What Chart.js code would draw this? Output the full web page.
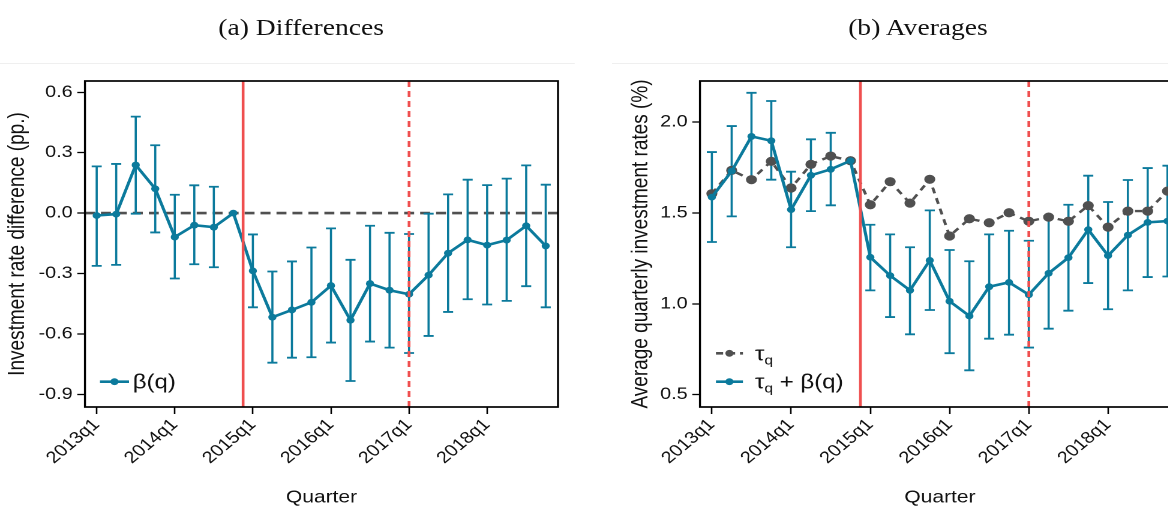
<!DOCTYPE html>
<html>
<head>
<meta charset="utf-8">
<title>Investment rates by quarter</title>
<script src="https://cdn.jsdelivr.net/npm/chart.js@4.4.1/dist/chart.umd.min.js"></script>
<style>
  html, body { margin: 0; padding: 0; background: #fff; overflow: hidden; }
  body { width: 1168px; height: 506px; position: relative; }
  /* the figure is drawn 1.2x wide, like the exported original */
  #stage { position: absolute; left: 0; top: 0; width: 1000px; height: 506px; transform: scaleX(1.2); transform-origin: 0 0; }
  .rule { position: absolute; top: 63px; height: 0; border-top: 1px solid #efefef; }
  .head { position: absolute; top: 16px; font: 23px/1 "Liberation Serif", serif; color: #111; text-align: center; white-space: nowrap; }
  .panel { position: absolute; top: 64px; height: 442px; }
</style>
</head>
<body>
<div id="stage">
  <div class="rule" style="left:0; width:479px"></div>
  <div class="rule" style="left:510px; width:490px"></div>
  <div class="head" style="left:151px; width:200px">(a) Differences</div>
  <div class="head" style="left:665px; width:200px">(b) Averages</div>
  <div class="panel" style="left:0; width:483px"><canvas id="diffChart" width="483" height="442"></canvas></div>
  <div class="panel" style="left:500px; width:500px"><canvas id="avgChart" width="500" height="442"></canvas></div>
</div>
<script>
// quarters 2013q1 .. 2018q4 are x = 0 .. 23
var tickPos = [0, 4, 8, 12, 16, 20];
var tickLabels = ['2013q1', '2014q1', '2015q1', '2016q1', '2017q1', '2018q1'];

// (a) beta(q) with 95% bands; 2014q4 is the base quarter
var beta   = [-0.012, -0.005, 0.239, 0.121, -0.119, -0.060, -0.070, 0.000, -0.287, -0.517, -0.481, -0.443,
              -0.360, -0.532, -0.350, -0.383, -0.403, -0.308, -0.199, -0.133, -0.159, -0.134, -0.063, -0.163];
var betaLo = [-0.262, -0.257, -0.003, -0.096, -0.325, -0.254, -0.269, null, -0.468, -0.743, -0.718, -0.716,
              -0.643, -0.834, -0.638, -0.668, -0.695, -0.610, -0.491, -0.428, -0.454, -0.436, -0.363, -0.468];
var betaHi = [0.232, 0.244, 0.479, 0.337, 0.091, 0.138, 0.131, null, -0.106, -0.290, -0.240, -0.171,
              -0.076, -0.232, -0.063, -0.098, -0.104, -0.003, 0.093, 0.166, 0.139, 0.171, 0.237, 0.141];

// (b) tau_q and tau_q + beta(q)
var tau       = [1.606, 1.734, 1.683, 1.784, 1.637, 1.767, 1.813, 1.787, 1.545, 1.672, 1.554, 1.685,
                 1.373, 1.468, 1.446, 1.501, 1.454, 1.477, 1.454, 1.540, 1.422, 1.510, 1.510, 1.620];
var tauBeta   = [1.587, 1.730, 1.921, 1.897, 1.518, 1.707, 1.740, 1.787, 1.256, 1.155, 1.074, 1.239,
                 1.014, 0.933, 1.094, 1.118, 1.050, 1.168, 1.254, 1.408, 1.265, 1.378, 1.448, 1.455];
var tauBetaLo = [1.340, 1.481, 1.686, 1.683, 1.311, 1.510, 1.542, null, 1.074, 0.927, 0.832, 0.966,
                 0.728, 0.634, 0.808, 0.830, 0.759, 0.863, 0.962, 1.114, 0.970, 1.074, 1.147, 1.150];
var tauBetaHi = [1.835, 1.978, 2.161, 2.116, 1.727, 1.905, 1.941, null, 1.435, 1.382, 1.311, 1.514,
                 1.296, 1.234, 1.382, 1.402, 1.347, 1.483, 1.545, 1.705, 1.560, 1.681, 1.747, 1.760];

var diffTicks = [-0.9, -0.6, -0.3, 0.0, 0.3, 0.6];
var avgTicks = [0.5, 1.0, 1.5, 2.0];
var breakSolid = 7.5;   // between 2014q4 and 2015q1
var breakDashed = 16;   // 2017q1

var BLUE = '#0b7a9c', GRAY = '#505050', RED = '#ef4f4f', INK = '#111';
var SANS = '"Liberation Sans", Arial, sans-serif';

function pts(arr) {
  return arr.map(function (v, i) { return { x: i, y: v }; });
}

// zero line, error bars, break lines, frame and legend
var extras = {
  id: 'extras',
  beforeDatasetsDraw: function (chart, args, o) {
    var ctx = chart.ctx, a = chart.chartArea, x = chart.scales.x, y = chart.scales.y;
    ctx.save();
    ctx.beginPath(); ctx.rect(a.left, a.top, a.width, a.height); ctx.clip();
    if (o.zero) {
      var yz = y.getPixelForValue(0);
      ctx.strokeStyle = GRAY; ctx.lineWidth = 2.6; ctx.setLineDash([8.3, 5]);
      ctx.beginPath(); ctx.moveTo(a.left, yz); ctx.lineTo(a.right, yz); ctx.stroke();
      ctx.setLineDash([]);
    }
    chart.data.datasets.forEach(function (ds) {
      if (!ds.lo) return;
      ctx.strokeStyle = ds.borderColor; ctx.lineWidth = 1.8;
      ds.lo.forEach(function (lo, i) {
        if (lo == null) return;
        var px = x.getPixelForValue(i), p0 = y.getPixelForValue(lo), p1 = y.getPixelForValue(ds.hi[i]);
        ctx.beginPath();
        ctx.moveTo(px, p0); ctx.lineTo(px, p1);
        ctx.moveTo(px - 4.2, p0); ctx.lineTo(px + 4.2, p0);
        ctx.moveTo(px - 4.2, p1); ctx.lineTo(px + 4.2, p1);
        ctx.stroke();
      });
    });
    ctx.restore();
  },
  afterDatasetsDraw: function (chart) {
    var ctx = chart.ctx, a = chart.chartArea, x = chart.scales.x;
    ctx.save();
    ctx.strokeStyle = RED; ctx.lineWidth = 2.3;
    var xs = x.getPixelForValue(breakSolid);
    ctx.beginPath(); ctx.moveTo(xs, a.top); ctx.lineTo(xs, a.bottom); ctx.stroke();
    var xd = x.getPixelForValue(breakDashed);
    ctx.setLineDash([6, 4]);
    ctx.beginPath(); ctx.moveTo(xd, a.top); ctx.lineTo(xd, a.bottom); ctx.stroke();
    ctx.restore();
  },
  afterDraw: function (chart, args, o) {
    var ctx = chart.ctx, a = chart.chartArea;
    ctx.save();
    ctx.strokeStyle = '#000'; ctx.lineWidth = 1.7;
    ctx.strokeRect(a.left, a.top, a.width, a.height);
    // legend, bottom left inside the frame
    o.legend.forEach(function (it, k) {
      var ly = a.bottom - 25.3 - (o.legend.length - 1 - k) * 28.4;
      var x0 = a.left + o.symX, x1 = x0 + o.symW;
      ctx.strokeStyle = it.color; ctx.fillStyle = it.color; ctx.lineWidth = 2.6;
      ctx.setLineDash(it.dash || []);
      ctx.beginPath(); ctx.moveTo(x0, ly); ctx.lineTo(x1, ly); ctx.stroke();
      ctx.setLineDash([]);
      ctx.beginPath(); ctx.arc((x0 + x1) / 2, ly, 3.4, 0, Math.PI * 2); ctx.fill();
      var tx = a.left + o.textX;
      ctx.fillStyle = INK; ctx.textBaseline = 'alphabetic';
      it.parts.forEach(function (p) {
        ctx.font = (p.sub ? 13 : 20) + 'px ' + SANS;
        ctx.fillText(p.t, tx, ly + (p.sub ? 11 : 7));
        tx += ctx.measureText(p.t).width;
      });
    });
    ctx.restore();
  }
};

function makeChart(id, cfg) {
  return new Chart(document.getElementById(id), {
    type: 'line',
    data: { datasets: cfg.datasets },
    options: {
      responsive: false,
      animation: false,
      devicePixelRatio: 2,
      layout: { padding: { top: 17, right: cfg.padRight, left: 0, bottom: 0 } },
      elements: {
        line: { borderWidth: 2.6, tension: 0 },
        point: { radius: 3.4, borderWidth: 0 }
      },
      scales: {
        x: {
          type: 'linear', min: -0.6, max: 23.63,
          afterBuildTicks: function (s) { s.ticks = tickPos.map(function (v) { return { value: v }; }); },
          afterFit: function (s) { s.height = 99; },
          ticks: {
            autoSkip: false, minRotation: 45, maxRotation: 45, padding: 1,
            color: INK, font: { family: SANS, size: 16.5 },
            callback: function (v) { return tickLabels[tickPos.indexOf(v)]; }
          },
          grid: { drawOnChartArea: false, drawTicks: true, tickLength: 7, tickColor: '#000', tickWidth: 1.3 },
          border: { display: false },
          title: { display: true, text: 'Quarter', color: INK, font: { family: SANS, size: 17.5 }, padding: { top: 0, bottom: -2 } }
        },
        y: {
          min: cfg.yMin, max: cfg.yMax,
          afterBuildTicks: function (s) { s.ticks = cfg.yTicks.map(function (v) { return { value: v }; }); },
          afterFit: function (s) { s.width = cfg.yWidth; },
          ticks: {
            padding: 3.8, color: INK, font: { family: SANS, size: 16.5 },
            callback: function (v) { return v.toFixed(1); }
          },
          grid: { drawOnChartArea: false, drawTicks: true, tickLength: 6.4, tickColor: '#000', tickWidth: 1.3 },
          border: { display: false },
          title: { display: true, text: cfg.yTitle, color: INK, font: { family: SANS, size: 19 }, padding: { top: cfg.yTitlePad, bottom: 0 } }
        }
      },
      plugins: {
        legend: { display: false },
        tooltip: { enabled: false },
        extras: cfg.extras
      }
    },
    plugins: [extras]
  });
}

makeChart('diffChart', {
  datasets: [{
    label: 'β(q)', data: pts(beta), lo: betaLo, hi: betaHi,
    borderColor: BLUE, backgroundColor: BLUE, pointBackgroundColor: BLUE
  }],
  yMin: -0.963, yMax: 0.656, yTicks: diffTicks, yWidth: 70.8, padRight: 18,
  yTitle: 'Investment rate difference (pp.)', yTitlePad: 3.6,
  extras: {
    zero: true, symX: 12.5, symW: 24.2, textX: 39.8,
    legend: [{ color: BLUE, parts: [{ t: 'β(q)' }] }]
  }
});

makeChart('avgChart', {
  datasets: [{
    label: 'τq + β(q)', data: pts(tauBeta), lo: tauBetaLo, hi: tauBetaHi,
    borderColor: BLUE, backgroundColor: BLUE, pointBackgroundColor: BLUE
  }, {
    label: 'τq', data: pts(tau), borderDash: [6, 5], borderWidth: 2.4,
    borderColor: GRAY, backgroundColor: GRAY, pointBackgroundColor: GRAY
  }],
  yMin: 0.432, yMax: 2.226, yTicks: avgTicks, yWidth: 83.3, padRight: 16.7,
  yTitle: 'Average quarterly investment rates (%)', yTitlePad: 22.8,
  extras: {
    zero: false, symX: 13.3, symW: 22.5, textX: 45.8,
    legend: [
      { color: GRAY, dash: [6, 4], parts: [{ t: 'τ' }, { t: 'q', sub: true }] },
      { color: BLUE, parts: [{ t: 'τ' }, { t: 'q', sub: true }, { t: ' + β(q)' }] }
    ]
  }
});
</script>
</body>
</html>
